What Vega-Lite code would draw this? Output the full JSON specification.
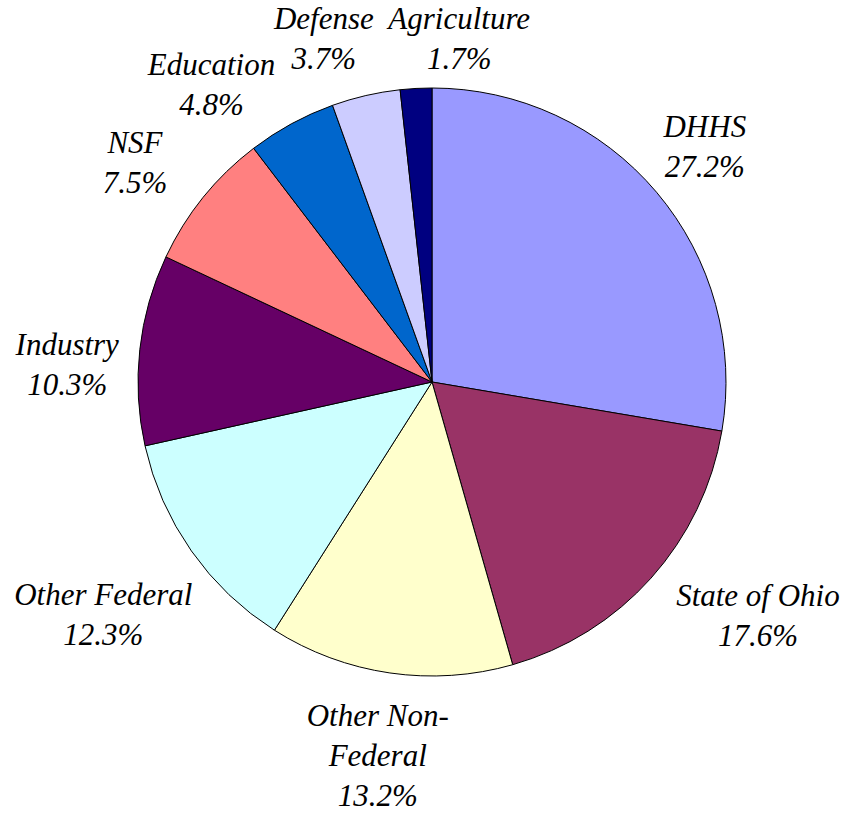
{
  "$schema": "https://vega.github.io/schema/vega-lite/v6.json",
  "width": 824,
  "height": 764,
  "padding": {"left": 20, "top": 0, "right": 0, "bottom": 49},
  "autosize": {"type": "none"},
  "background": "white",
  "config": {
    "view": {"stroke": null},
    "text": {"font": "Liberation Serif", "fontStyle": "italic", "fontSize": 31, "lineHeight": 40, "lineBreak": "\n", "fill": "black", "align": "center", "baseline": "middle"}
  },
  "data": {
    "values": [
      {"rank": 1, "source": "DHHS", "value": 27.2, "label": "DHHS\n27.2%"},
      {"rank": 2, "source": "State of Ohio", "value": 17.6, "label": "State of Ohio\n17.6%"},
      {"rank": 3, "source": "Other Non-Federal", "value": 13.2, "label": "Other Non-\nFederal\n13.2%"},
      {"rank": 4, "source": "Other Federal", "value": 12.3, "label": "Other Federal\n12.3%"},
      {"rank": 5, "source": "Industry", "value": 10.3, "label": "Industry\n10.3%"},
      {"rank": 6, "source": "NSF", "value": 7.5, "label": "NSF\n7.5%"},
      {"rank": 7, "source": "Education", "value": 4.8, "label": "Education\n4.8%"},
      {"rank": 8, "source": "Defense", "value": 3.7, "label": "Defense\n3.7%"},
      {"rank": 9, "source": "Agriculture", "value": 1.7, "label": "Agriculture\n1.7%"}
    ]
  },
  "encoding": {
    "theta": {"field": "value", "type": "quantitative", "stack": true},
    "order": {"field": "rank", "type": "quantitative"}
  },
  "layer": [
    {
      "mark": {"type": "arc", "outerRadius": 294, "stroke": "black", "strokeWidth": 1},
      "encoding": {
        "color": {
          "field": "source",
          "type": "nominal",
          "scale": {
            "domain": ["DHHS", "State of Ohio", "Other Non-Federal", "Other Federal", "Industry", "NSF", "Education", "Defense", "Agriculture"],
            "range": ["#9999FF", "#993366", "#FFFFCC", "#CCFFFF", "#660066", "#FF8080", "#0066CC", "#CCCCFF", "#000080"]
          },
          "legend": null
        }
      }
    },
    {
      "mark": {"type": "text", "radius": 365, "dx": -6, "dy": -18},
      "encoding": {"text": {"condition": {"test": "datum.source === 'DHHS'", "field": "label"}, "value": ""}}
    },
    {
      "mark": {"type": "text", "radius": 365, "dx": 54, "dy": -28},
      "encoding": {"text": {"condition": {"test": "datum.source === 'State of Ohio'", "field": "label"}, "value": ""}}
    },
    {
      "mark": {"type": "text", "radius": 365, "dx": -2, "dy": -26},
      "encoding": {"text": {"condition": {"test": "datum.source === 'Other Non-Federal'", "field": "label"}, "value": ""}}
    },
    {
      "mark": {"type": "text", "radius": 365, "dx": -30, "dy": 4},
      "encoding": {"text": {"condition": {"test": "datum.source === 'Other Federal'", "field": "label"}, "value": ""}}
    },
    {
      "mark": {"type": "text", "radius": 365, "dx": -2, "dy": 4},
      "encoding": {"text": {"condition": {"test": "datum.source === 'Industry'", "field": "label"}, "value": ""}}
    },
    {
      "mark": {"type": "text", "radius": 365, "dx": -13, "dy": -9},
      "encoding": {"text": {"condition": {"test": "datum.source === 'NSF'", "field": "label"}, "value": ""}}
    },
    {
      "mark": {"type": "text", "radius": 365, "dx": -46, "dy": 5},
      "encoding": {"text": {"condition": {"test": "datum.source === 'Education'", "field": "label"}, "value": ""}}
    },
    {
      "mark": {"type": "text", "radius": 365, "dx": -26, "dy": -6},
      "encoding": {"text": {"condition": {"test": "datum.source === 'Defense'", "field": "label"}, "value": ""}}
    },
    {
      "mark": {"type": "text", "radius": 365, "dx": 47, "dy": 2},
      "encoding": {"text": {"condition": {"test": "datum.source === 'Agriculture'", "field": "label"}, "value": ""}}
    }
  ]
}
